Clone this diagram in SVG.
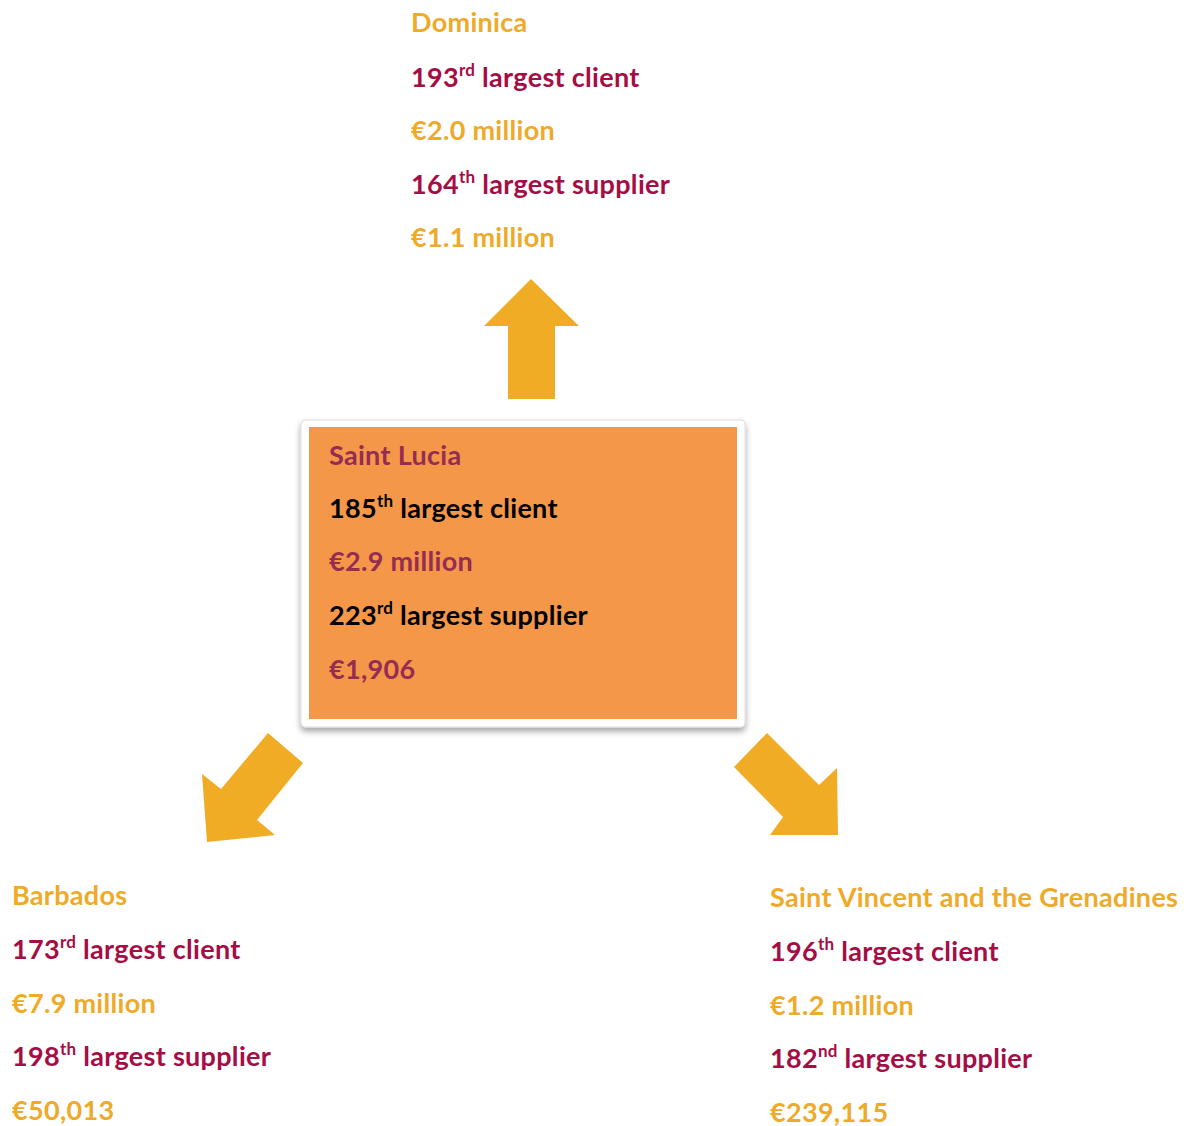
<svg xmlns="http://www.w3.org/2000/svg" width="1192" height="1126" viewBox="0 0 1192 1126">
<defs>
<filter id="sh" x="-10%" y="-10%" width="120%" height="125%">
<feDropShadow dx="0" dy="4" stdDeviation="3" flood-color="#000" flood-opacity="0.35"/>
</filter>
</defs>
<style>
text{font-family:Lato,"Open Sans","Liberation Sans",sans-serif;font-weight:bold;font-size:27px;letter-spacing:0.3px}
.o{fill:#EEAA28}
.m{fill:#A50D45}
.k{fill:#000}
.bm{fill:#952C52}
.sup{font-size:17px}
.arr{fill:#EFAC24}
</style>
<rect width="1192" height="1126" fill="#fff"/>
<g id="connectors">
<polygon class="arr" points="531,279 579,326 555,326 555,399 508,399 508,326 484,326"/>
<polygon class="arr" points="268,733 303,763 257,820 275,835 207,842 202,774 221,789"/>
<polygon class="arr" points="767,733 819,785 837,768 838,835 770,835 783,817 734,767"/>
</g>
<g id="saint-lucia">
<rect x="301" y="420" width="444" height="307" rx="4" fill="#fff" stroke="#ddd" stroke-width="1" filter="url(#sh)"/>
<rect x="309" y="427" width="428" height="292" fill="#F59748"/>
<text x="329" y="465" class="bm">Saint Lucia</text>
<text x="329" y="518" class="k">185<tspan class="sup" dy="-11">th</tspan><tspan dy="11"> largest client</tspan></text>
<text x="329" y="571" class="bm">€2.9 million</text>
<text x="329" y="625" class="k">223<tspan class="sup" dy="-11">rd</tspan><tspan dy="11"> largest supplier</tspan></text>
<text x="329" y="679" class="bm">€1,906</text>
</g>
<g id="dominica">
<text x="411" y="32" class="o">Dominica</text>
<text x="411" y="87" class="m">193<tspan class="sup" dy="-11">rd</tspan><tspan dy="11"> largest client</tspan></text>
<text x="411" y="140" class="o">€2.0 million</text>
<text x="411" y="194" class="m">164<tspan class="sup" dy="-11">th</tspan><tspan dy="11"> largest supplier</tspan></text>
<text x="411" y="247" class="o">€1.1 million</text>
</g>
<g id="barbados">
<text x="12" y="905" class="o">Barbados</text>
<text x="12" y="959" class="m">173<tspan class="sup" dy="-11">rd</tspan><tspan dy="11"> largest client</tspan></text>
<text x="12" y="1013" class="o">€7.9 million</text>
<text x="12" y="1066" class="m">198<tspan class="sup" dy="-11">th</tspan><tspan dy="11"> largest supplier</tspan></text>
<text x="12" y="1120" class="o">€50,013</text>
</g>
<g id="saint-vincent">
<text x="770" y="907" class="o">Saint Vincent and the Grenadines</text>
<text x="770" y="961" class="m">196<tspan class="sup" dy="-11">th</tspan><tspan dy="11"> largest client</tspan></text>
<text x="770" y="1015" class="o">€1.2 million</text>
<text x="770" y="1068" class="m">182<tspan class="sup" dy="-11">nd</tspan><tspan dy="11"> largest supplier</tspan></text>
<text x="770" y="1122" class="o">€239,115</text>
</g>
</svg>
